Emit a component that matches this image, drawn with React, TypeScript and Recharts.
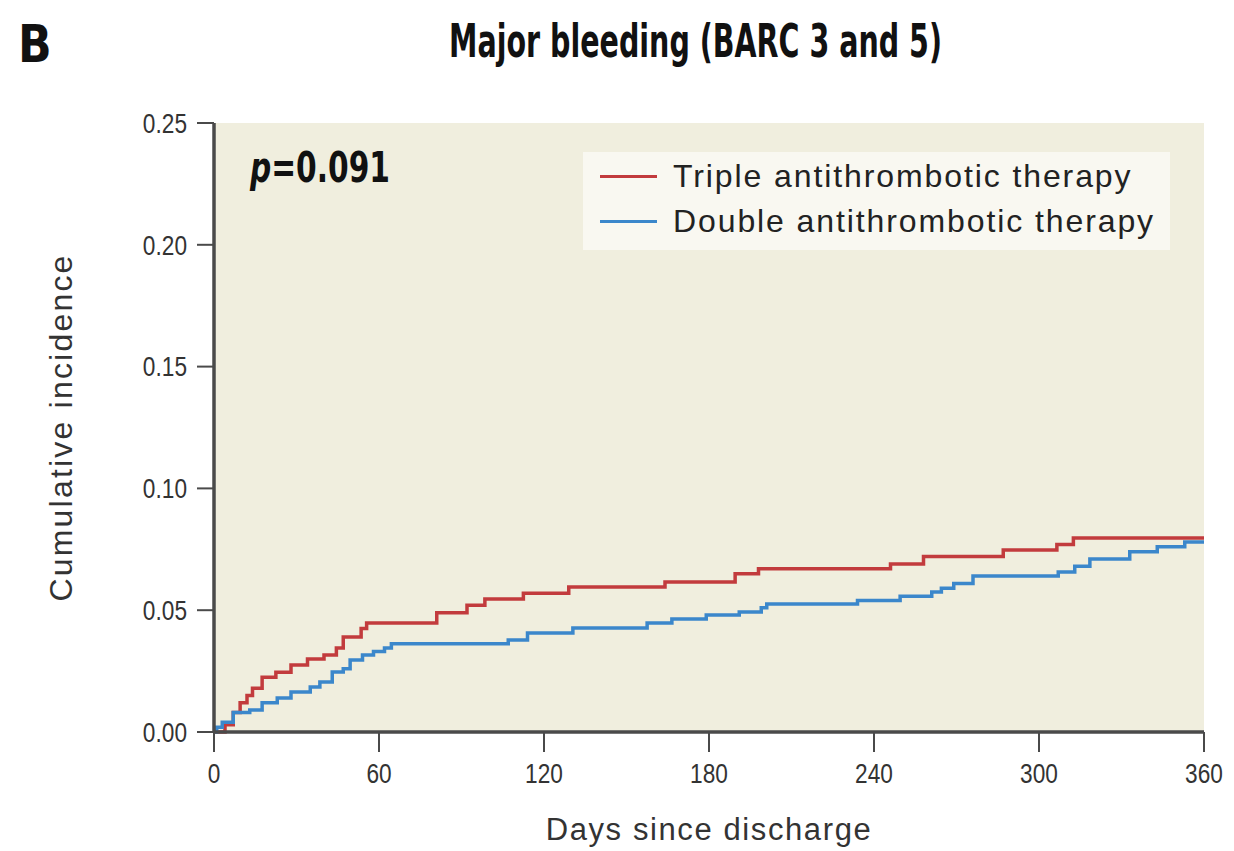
import { LineChart, Line, XAxis, YAxis, CartesianGrid, Legend } from "recharts";

const TRIPLE_DAYS = [0, 4, 7, 9.5, 12, 14, 17.5, 22.5, 28, 34, 40, 44.5, 47, 53.5, 55.5, 81, 92, 98.5, 112.5, 129, 164, 189.5, 198, 246, 258, 287, 306.5, 312.5, 360];
const TRIPLE_INC = [0, 0.003, 0.008, 0.012, 0.015, 0.018, 0.0225, 0.0245, 0.0275, 0.03, 0.0316, 0.0345, 0.039, 0.0425, 0.0447, 0.049, 0.052, 0.0546, 0.057, 0.0595, 0.0616, 0.065, 0.067, 0.069, 0.072, 0.0747, 0.077, 0.0796, 0.0796];

const DOUBLE_DAYS = [0, 1, 3, 7, 13, 17.5, 23, 28, 35, 38.5, 43, 47, 49.5, 54, 58, 62, 64.5, 107, 114, 130.5, 157.5, 166.5, 179, 191, 199, 201, 234, 249.5, 261, 264.5, 269, 276, 307, 313, 318.5, 333, 343, 353, 360];
const DOUBLE_INC = [0, 0.002, 0.004, 0.008, 0.009, 0.012, 0.014, 0.0164, 0.0185, 0.0205, 0.0246, 0.026, 0.0296, 0.0316, 0.033, 0.0345, 0.0362, 0.0378, 0.0406, 0.0427, 0.0447, 0.0464, 0.048, 0.0493, 0.051, 0.0525, 0.054, 0.0557, 0.0575, 0.059, 0.061, 0.064, 0.0657, 0.068, 0.071, 0.074, 0.076, 0.078, 0.078];

const X_TICKS = [0, 60, 120, 180, 240, 300, 360];
const Y_TICKS = [0, 0.05, 0.1, 0.15, 0.2, 0.25];

const RED = "#c23b3d";
const BLUE = "#3b87cb";
const AXIS = "#4a4a4a";
const BOLD = "'DejaVu Sans', sans-serif";
const PLAIN = "'Liberation Sans', Arial, sans-serif";

const triple = TRIPLE_DAYS.map((d, i) => ({ day: d, inc: TRIPLE_INC[i] }));
const double = DOUBLE_DAYS.map((d, i) => ({ day: d, inc: DOUBLE_INC[i] }));

function LegendBox() {
  const row = (color: string, label: string) => (
    <div style={{ display: "flex", alignItems: "center", height: 45 }}>
      <div style={{ width: 57, height: 3, background: color, marginLeft: 17, marginRight: 16 }} />
      <span style={{ fontSize: 32, color: "#222", letterSpacing: 1.9, whiteSpace: "nowrap" }}>{label}</span>
    </div>
  );
  return (
    <div style={{ background: "#f9f8f1", width: 587, height: 98, paddingTop: 2, boxSizing: "border-box", fontFamily: PLAIN }}>
      {row(RED, "Triple antithrombotic therapy")}
      {row(BLUE, "Double antithrombotic therapy")}
    </div>
  );
}

// narrow tick labels (the original uses a condensed face)
const NarrowTick = (props: any) => {
  const { x, y, payload, textAnchor, vertical } = props;
  const label = vertical ? Number(payload.value).toFixed(2) : String(payload.value);
  return (
    <text
      transform={`translate(${x} ${y}) scale(0.84 1)`}
      x={0}
      y={0}
      dy={vertical ? "0.36em" : "0.72em"}
      textAnchor={textAnchor}
      fontSize={27}
      fill="#333"
      fontFamily={PLAIN}
    >
      {label}
    </text>
  );
};

// axis titles placed from the axis viewBox
const XTitle = (props: any) => {
  const vb = props.viewBox;
  return (
    <text x={vb.x + vb.width / 2} y={vb.y + 108} textAnchor="middle" fontSize={31} fill="#333" fontFamily={PLAIN} letterSpacing={1.6}>
      Days since discharge
    </text>
  );
};

const YTitle = (props: any) => {
  const vb = props.viewBox;
  const x = vb.x + 72;
  const y = vb.y + vb.height / 2;
  return (
    <text x={x} y={y} transform={`rotate(-90 ${x} ${y})`} textAnchor="middle" fontSize={32} fill="#333" fontFamily={PLAIN} letterSpacing={2.2}>
      Cumulative incidence
    </text>
  );
};

export default function App() {
  return (
    <div style={{ position: "absolute", left: 0, top: 0, width: 1234, height: 851, background: "#fff", overflow: "hidden" }}>
      <LineChart width={1234} height={851} margin={{ top: 123, right: 30, bottom: 0, left: 0 }}>
        <CartesianGrid horizontal={false} vertical={false} fill="#f0eede" />
        <XAxis
          dataKey="day"
          type="number"
          domain={[0, 360]}
          ticks={X_TICKS}
          height={119}
          axisLine={{ stroke: AXIS, strokeWidth: 3.5 }}
          tickLine={{ stroke: AXIS, strokeWidth: 2 }}
          tickSize={20}
          tickMargin={12}
          tick={<NarrowTick vertical={false} />}
          label={<XTitle />}
        />
        <YAxis
          type="number"
          domain={[0, 0.25]}
          ticks={Y_TICKS}
          width={214}
          axisLine={{ stroke: AXIS, strokeWidth: 3.5 }}
          tickLine={{ stroke: AXIS, strokeWidth: 2 }}
          tickSize={17}
          tickMargin={10}
          tick={<NarrowTick vertical />}
          label={<YTitle />}
        />
        <Legend
          layout="vertical"
          align="center"
          verticalAlign="middle"
          content={() => <LegendBox />}
          wrapperStyle={{ left: 583, top: 152, width: 587, height: 98 }}
        />
        <Line data={triple} dataKey="inc" name="Triple antithrombotic therapy" type="stepAfter" stroke={RED} strokeWidth={3.5} dot={false} isAnimationActive={false} />
        <Line data={double} dataKey="inc" name="Double antithrombotic therapy" type="stepAfter" stroke={BLUE} strokeWidth={3.5} dot={false} isAnimationActive={false} />
      </LineChart>
      <div style={{ position: "absolute", left: 18, top: 14, fontFamily: BOLD, fontWeight: 700, fontSize: 52, color: "#111", transform: "scaleX(0.85)", transformOrigin: "left" }}>B</div>
      <div style={{ position: "absolute", left: 0, width: 1392, top: 14, textAlign: "center", fontFamily: BOLD, fontWeight: 700, fontSize: 46, color: "#111" }}>
        <span style={{ display: "inline-block", transform: "scaleX(0.62)", whiteSpace: "nowrap" }}>Major bleeding (BARC 3 and 5)</span>
      </div>
      <div style={{ position: "absolute", left: 250, top: 142, fontFamily: BOLD, fontWeight: 700, fontSize: 43, color: "#111", transform: "scaleX(0.69)", transformOrigin: "left", whiteSpace: "nowrap" }}>
        <i>p</i>=0.091
      </div>
    </div>
  );
}
